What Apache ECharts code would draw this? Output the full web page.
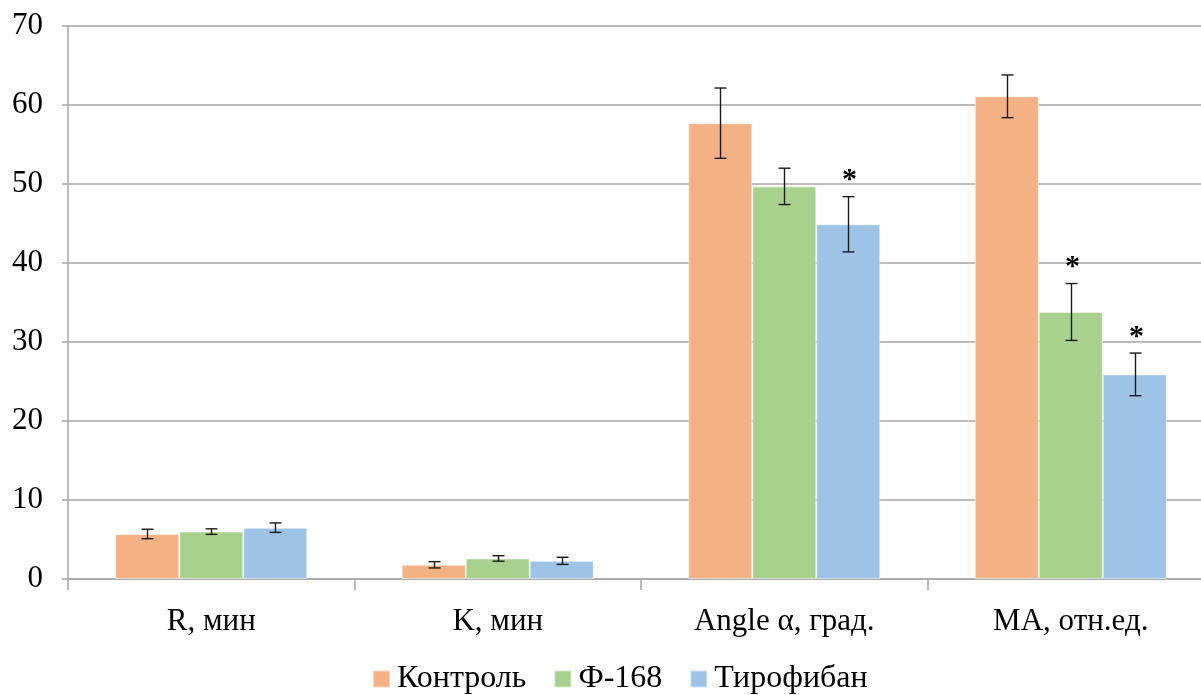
<!DOCTYPE html>
<html>
<head>
<meta charset="utf-8">
<script src="https://cdn.jsdelivr.net/npm/echarts@6/dist/echarts.min.js"></script>
<style>
  html, body { margin: 0; padding: 0; background: #fff; }
  #chart { width: 1201px; height: 695px; }
</style>
</head>
<body>
<div id="chart"></div>
<script>
// Thromboelastography parameters by group (mean ± error)
const categories = ['R, мин', 'K, мин', 'Angle α, град.', 'MA, отн.ед.'];
const seriesNames = ['Контроль', 'Ф-168', 'Тирофибан'];
const controlValues = [5.7, 1.8, 57.7, 61.1];
const f168Values = [6.0, 2.6, 49.7, 33.8];
const tirofibanValues = [6.5, 2.3, 44.9, 25.9];
const controlErrors = [0.6, 0.4, 4.45, 2.7];
const f168Errors = [0.35, 0.35, 2.3, 3.6];
const tirofibanErrors = [0.6, 0.45, 3.5, 2.7];
// significance marks (*) per series and category
const controlSignif = [false, false, false, false];
const f168Signif = [false, false, false, true];
const tirofibanSignif = [false, false, true, true];
const yTicks = { min: 0, max: 70, interval: 10 };

const colors = ['#F4B183', '#A9D18E', '#9DC3E6'];
const values = [controlValues, f168Values, tirofibanValues];
const errors = [controlErrors, f168Errors, tirofibanErrors];
const signif = [controlSignif, f168Signif, tirofibanSignif];
const BAR_W = 64;
const FONT = '"Liberation Serif", "DejaVu Serif", serif';

const barSeries = seriesNames.map((name, i) => ({
  name,
  type: 'bar',
  data: values[i],
  barWidth: BAR_W,
  barGap: '0%',
  itemStyle: { color: colors[i], borderColor: 'rgba(255,255,255,0.5)', borderWidth: 1 },
  z: 2
}));

const errorSeries = seriesNames.map((name, i) => ({
  type: 'custom',
  name: name + '_err',
  data: values[i].map((v, k) => [k, v, errors[i][k], signif[i][k] ? 1 : 0]),
  encode: { x: 0, y: 1 },
  z: 5,
  silent: true,
  renderItem: function (params, api) {
    const k = api.value(0);
    const v = api.value(1);
    const e = api.value(2);
    const star = api.value(3);
    const offset = (i - 1) * BAR_W;
    const hi = api.coord([k, v + e]);
    const lo = api.coord([k, v - e]);
    const x = Math.round(hi[0] + offset) + 0.5;
    const cap = 6;
    const style = { stroke: '#1a1a1a', lineWidth: 1.4 };
    const children = [
      { type: 'line', shape: { x1: x, y1: hi[1], x2: x, y2: lo[1] }, style },
      { type: 'line', shape: { x1: x - cap, y1: hi[1], x2: x + cap, y2: hi[1] }, style },
      { type: 'line', shape: { x1: x - cap, y1: lo[1], x2: x + cap, y2: lo[1] }, style }
    ];
    if (star) {
      children.push({
        type: 'text',
        style: {
          text: '*', x: x + 1, y: hi[1] - 1,
          align: 'center', verticalAlign: 'bottom',
          fontFamily: FONT, fontSize: 30, fontWeight: 'bold', fill: '#000'
        }
      });
    }
    return { type: 'group', children };
  }
}));

const chart = echarts.init(document.getElementById('chart'));
chart.setOption({
  animation: false,
  color: colors,
  textStyle: { fontFamily: FONT },
  grid: { left: 68, top: 26, width: 1146, height: 553, containLabel: false, outerBoundsMode: 'none' },
  legend: {
    data: seriesNames,
    bottom: 0,
    left: 372,
    padding: 0,
    itemWidth: 17,
    itemHeight: 17,
    itemGap: 27,
    icon: 'rect',
    textStyle: { fontFamily: FONT, fontSize: 32, color: '#000', padding: [0, 0, 0, 2] }
  },
  xAxis: {
    type: 'category',
    data: categories,
    boundaryGap: true,
    axisLine: { lineStyle: { color: '#a6a6a6', width: 1.5 } },
    axisTick: { show: true, length: 11, lineStyle: { color: '#a6a6a6', width: 1.5 } },
    axisLabel: { fontFamily: FONT, fontSize: 31, color: '#000', margin: 27 }
  },
  yAxis: {
    type: 'value',
    min: yTicks.min,
    max: yTicks.max,
    interval: yTicks.interval,
    axisLine: { show: true, lineStyle: { color: '#a6a6a6', width: 1.5 } },
    axisTick: { show: true, length: 6, lineStyle: { color: '#a6a6a6', width: 1.5 } },
    splitLine: { lineStyle: { color: '#a6a6a6', width: 1.5 } },
    axisLabel: { fontFamily: FONT, fontSize: 31, color: '#000', margin: 25 }
  },
  series: barSeries.concat(errorSeries)
});
</script>
</body>
</html>
